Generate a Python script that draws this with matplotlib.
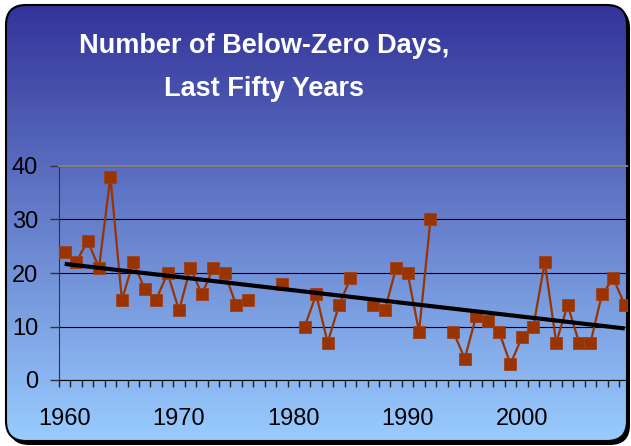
import numpy as np
import matplotlib.pyplot as plt
from matplotlib.patches import FancyBboxPatch
from matplotlib.colors import LinearSegmentedColormap

plt.rcParams['font.family'] = ['Liberation Sans', 'DejaVu Sans']

# ===== data (blank years = no value) =====
years = np.arange(1960, 2010)
days = np.array([
    24, 22, 26, 21, 38, 15, 22, 17, 15, 20,          # 1960s
    13, 21, 16, 21, 20, 14, 15, np.nan, np.nan, 18,  # 1970s
    np.nan, 10, 16, 7, 14, 19, np.nan, 14, 13, 21,   # 1980s
    20, 9, 30, np.nan, 9, 4, 12, 11, 9, 3,           # 1990s
    8, 10, 22, 7, 14, 7, 7, 16, 19, 14,              # 2000s
], dtype=float)
label_years = [1960, 1970, 1980, 1990, 2000]

title_1 = "Number of Below-Zero Days,"
title_2 = "Last Fifty Years"

W, H = 631, 446
fig = plt.figure(figsize=(W / 100, H / 100), dpi=100)

# ===== background: rounded box with blue gradient =====
bg = fig.add_axes([0, 0, 1, 1])
bg.set_axis_off()

shadow = FancyBboxPatch((9, 8), 621, 437, boxstyle="round,pad=0,rounding_size=20",
                        fc='black', ec='none', zorder=1)
bg.add_patch(shadow)

grad = LinearSegmentedColormap.from_list('bgblue', ['#333399', '#99CCFF'])
img = bg.imshow(np.linspace(0, 1, 256).reshape(-1, 1), cmap=grad, aspect='auto',
                extent=(6, 627, 441, 5), origin='upper', zorder=2)
box = FancyBboxPatch((6, 5), 621, 436, boxstyle="round,pad=0,rounding_size=20",
                     fc='none', ec='black', lw=1.5, zorder=3)
bg.add_patch(box)
img.set_clip_path(box)
bg.set_xlim(0, W)
bg.set_ylim(H, 0)

# ===== title =====
fig.text(264 / W, 1 - 53 / H, title_1, color='white', fontsize=19.5,
         fontweight='bold', ha='center', va='baseline')
fig.text(264 / W, 1 - 96 / H, title_2, color='white', fontsize=19.5,
         fontweight='bold', ha='center', va='baseline')

# ===== main chart =====
px_year = 11.43
left_px, right_px = 59, 627
ax = fig.add_axes([left_px / W, 1 - 380 / H, (right_px - left_px) / W, (380 - 166) / H])
ax.patch.set_alpha(0)

ax.plot(years, days, color='#993300', lw=1.6, marker='s', markersize=8.5,
        markerfacecolor='#993300', markeredgecolor='#A0401A', markeredgewidth=0.6, zorder=3)

mask = ~np.isnan(days)
coef = np.polyfit(years[mask], days[mask], 1)
ax.plot([years[0], years[-1]], np.polyval(coef, [years[0], years[-1]]),
        color='black', lw=3, zorder=4, solid_capstyle='butt')

ax.set_xlim(1959.5, 1959.5 + (right_px - left_px) / px_year)
ax.set_ylim(0, 40)

ax.set_yticks([0, 10, 20, 30, 40])
ax.set_xticks(label_years)
ax.set_xticks(np.arange(1959.5, 2009.5, 1), minor=True)
ax.tick_params(axis='y', direction='out', length=6.5, width=1, color='#333333',
               labelsize=17, pad=8.5)
ax.tick_params(axis='x', which='major', length=0, labelsize=17, pad=20)
ax.tick_params(axis='x', which='minor', direction='out', length=5, width=1, color='#222222')

ax.yaxis.grid(True, color='black', lw=0.8)
ax.set_axisbelow(True)
ax.spines['right'].set_visible(False)
ax.spines['top'].set_color('#808080')
ax.spines['top'].set_linewidth(1.5)
ax.spines['left'].set_color('#333333')
ax.spines['bottom'].set_color('black')

fig.savefig("out.png", dpi=100)
